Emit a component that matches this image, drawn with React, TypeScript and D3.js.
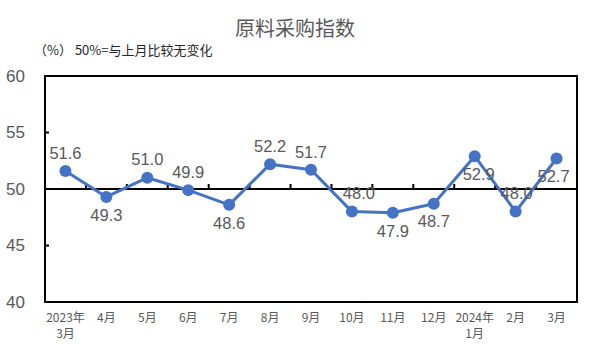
import { useEffect, useRef } from 'react';
import * as d3 from 'd3';

const months = ['2023年\n3月', '4月', '5月', '6月', '7月', '8月', '9月', '10月', '11月', '12月', '2024年\n1月', '2月', '3月'];
const values = [51.6, 49.3, 51.0, 49.9, 48.6, 52.2, 51.7, 48.0, 47.9, 48.7, 52.9, 48.0, 52.7];
const yTicks = [40, 45, 50, 55, 60];
// label placement: 1 = above the point, -1 = below
const labelSide = [1, -1, 1, 1, -1, 1, 1, 1, -1, -1, -1, 1, -1];
const labelShift = [0, 0, 0, 0, 0, 0, 0, 7, 0, 0, 4, 1, -3];

const width = 591;
const height = 354;

export default function App() {
  const svgRef = useRef<SVGSVGElement>(null);

  useEffect(() => {
    if (!svgRef.current) return;
    const svg = d3.select(svgRef.current);
    svg.selectAll('*').remove();

    const margin = { top: 76, right: 14, bottom: 52, left: 45 };
    const innerW = width - margin.left - margin.right;
    const innerH = height - margin.top - margin.bottom;
    const textColor = '#595959';
    const lineColor = '#4472C4';

    const x = d3.scaleBand().domain(months).range([0, innerW]);
    const y = d3.scaleLinear().domain([40, 60]).range([innerH, 0]);

    // title
    svg.append('text')
      .attr('x', 295)
      .attr('y', 36)
      .attr('text-anchor', 'middle')
      .attr('font-family', '"Noto Sans CJK SC", sans-serif')
      .attr('font-size', '20px')
      .attr('fill', textColor)
      .text('原料采购指数');

    svg.append('text')
      .attr('x', 34)
      .attr('y', 55)
      .attr('font-family', '"Noto Sans CJK SC", sans-serif')
      .attr('font-size', '13px')
      .attr('fill', '#262626')
      .text('（%） 50%=与上月比较无变化');

    const g = svg.append('g').attr('transform', `translate(${margin.left},${margin.top})`);

    // frame
    g.append('rect')
      .attr('width', innerW)
      .attr('height', innerH)
      .attr('fill', 'none')
      .attr('stroke', '#000')
      .attr('stroke-width', 2);

    // y ticks & labels
    g.selectAll('line.ytick')
      .data(yTicks)
      .join('line')
      .attr('class', 'ytick')
      .attr('x1', 0)
      .attr('x2', 4)
      .attr('y1', d => y(d))
      .attr('y2', d => y(d))
      .attr('stroke', '#000')
      .attr('stroke-width', 2);

    g.selectAll('text.ylab')
      .data(yTicks)
      .join('text')
      .attr('class', 'ylab')
      .attr('x', -20)
      .attr('y', d => y(d))
      .attr('dy', '0.35em')
      .attr('text-anchor', 'end')
      .attr('font-family', '"Liberation Sans", sans-serif')
      .attr('font-size', '17px')
      .attr('fill', textColor)
      .text(d => d);

    // axis at 50
    g.append('line')
      .attr('x1', 0)
      .attr('x2', innerW)
      .attr('y1', y(50))
      .attr('y2', y(50))
      .attr('stroke', '#000')
      .attr('stroke-width', 2);

    g.selectAll('line.xtick')
      .data(months.slice(1))
      .join('line')
      .attr('class', 'xtick')
      .attr('x1', d => x(d) || 0)
      .attr('x2', d => x(d) || 0)
      .attr('y1', y(50))
      .attr('y2', y(50) - 5)
      .attr('stroke', '#000')
      .attr('stroke-width', 2);

    // x labels
    const xl = g.selectAll('text.xlab')
      .data(months)
      .join('text')
      .attr('class', 'xlab')
      .attr('transform', d => `translate(${(x(d) || 0) + x.bandwidth() / 2},${innerH + 20})`)
      .attr('text-anchor', 'middle')
      .attr('font-family', '"Noto Sans CJK SC", sans-serif')
      .attr('font-size', '12px')
      .attr('fill', textColor);
    xl.selectAll('tspan')
      .data(d => d.split('\n'))
      .join('tspan')
      .attr('x', 0)
      .attr('y', (_, i) => i * 16)
      .text(d => d);

    const cx = (i: number) => (x(months[i]) || 0) + x.bandwidth() / 2;

    const line = d3.line<number>()
      .x((_, i) => cx(i))
      .y(d => y(d));

    g.append('path')
      .datum(values)
      .attr('d', line)
      .attr('fill', 'none')
      .attr('stroke', lineColor)
      .attr('stroke-width', 3)
      .attr('stroke-linejoin', 'round');

    g.selectAll('circle')
      .data(values)
      .join('circle')
      .attr('cx', (_, i) => cx(i))
      .attr('cy', d => y(d))
      .attr('r', 6)
      .attr('fill', lineColor);

    g.selectAll('text.val')
      .data(values)
      .join('text')
      .attr('class', 'val')
      .attr('x', (_, i) => cx(i) + labelShift[i])
      .attr('y', (d, i) => y(d) - labelSide[i] * 18)
      .attr('dy', '0.35em')
      .attr('text-anchor', 'middle')
      .attr('font-family', '"Liberation Sans", sans-serif')
      .attr('font-size', '16.5px')
      .attr('fill', textColor)
      .text(d => d.toFixed(1));
  }, []);

  return (
    <svg
      ref={svgRef}
      width={width}
      height={height}
      style={{ position: 'absolute', left: 0, top: 0, background: '#fff' }}
    />
  );
}
